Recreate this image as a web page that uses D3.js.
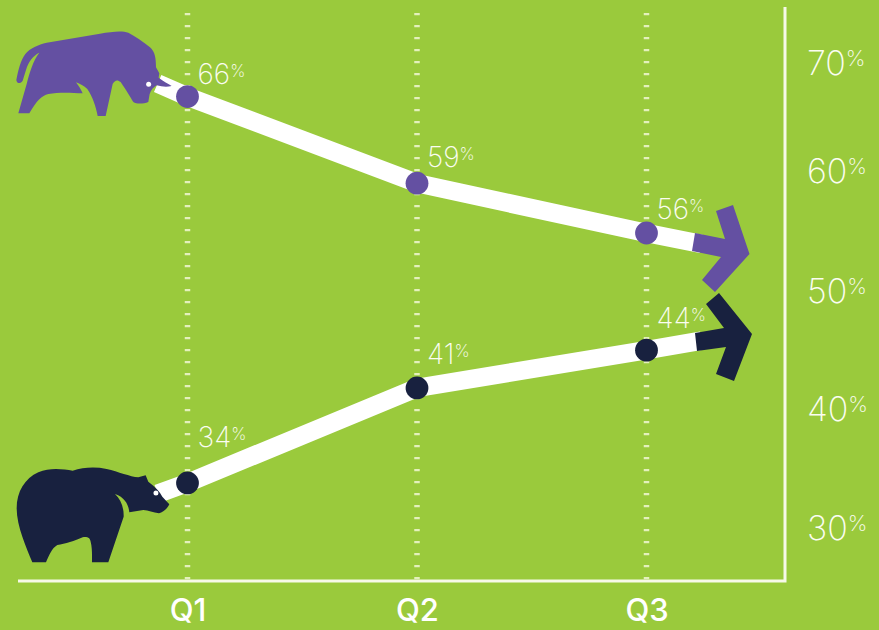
<!DOCTYPE html>
<html>
<head>
<meta charset="UTF-8">
<title>Bull and bear</title>
<script src="https://d3js.org/d3.v7.min.js"></script>
<style>
html, body { margin: 0; padding: 0; background: #9aca3c; }
svg { display: block; }
text { font-family: Inter, Lato, sans-serif; }
.pct { font-weight: 200; fill: #fbfdf2; }
.q { font-weight: 500; font-size: 31px; fill: #fff; }
</style>
</head>
<body>
<svg id="chart" width="879" height="630"></svg>
<script>
var quarters = ["Q1", "Q2", "Q3"];
var yTicks = [30, 40, 50, 60, 70];
// printed labels
var bullLabels = [66, 59, 56];
var bearLabels = [34, 41, 44];
// where the dots actually sit against the axis
var bullPlotted = [66.8, 58.9, 54.75];
var bearPlotted = [33.7, 41.7, 44.9];
// line ends, [quarter position, axis value]
var bullStart = [0.87, 68.0], bullEnd = [3.24, 53.83];
var bearStart = [0.87, 32.8], bearEnd = [3.24, 45.7];

var bullColor = "#6450a2", bearColor = "#18213f", lineColor = "#fff";

var svg = d3.select("#chart");
var x = d3.scaleLinear().domain([1, 3]).range([187.5, 646.5]);
// the source axis is not evenly spaced
var y = d3.scaleLinear().domain(yTicks).range([527, 408, 290, 170, 62]);

// dotted quarter lines
svg.append("g").selectAll("line").data([1, 2, 3]).join("line")
    .attr("x1", d => x(d)).attr("x2", d => x(d))
    .attr("y1", 13).attr("y2", 580)
    .attr("stroke", "#e4f0bc").attr("stroke-width", 5.5)
    .attr("stroke-dasharray", "2.2 9.8");

// axis lines
var xAxis = d3.axisBottom(x).tickValues([1, 2, 3]).tickFormat(d => quarters[d - 1]).tickSize(0).tickPadding(18);
var gx = svg.append("g").attr("transform", "translate(0,581)").call(xAxis);
gx.select(".domain").remove();
gx.selectAll("text").attr("class", "q").attr("fill", null).attr("dy", "0.71em");
svg.append("path").attr("d", "M18,581H785V7").attr("fill", "none").attr("stroke", "#f6f9e8").attr("stroke-width", 3);

var yAxis = d3.axisRight(y).tickValues(yTicks).tickSize(0).tickPadding(22).tickFormat(d => d);
var gy = svg.append("g").attr("transform", "translate(785,0)").call(yAxis);
gy.select(".domain").remove();
gy.selectAll("text").attr("class", "pct").attr("fill", null).attr("font-size", 34).attr("dy", "0.36em");
gy.selectAll("text").append("tspan").attr("font-size", 22).attr("dy", "-0.42em").text("%");

var line = d3.line().x(d => x(d[0])).y(d => y(d[1]));

function series(color, plotted, labels, start, end, labelDy) {
    var pts = [start].concat(plotted.map((v, i) => [i + 1, v]), [end]);
    svg.append("path").attr("d", line(pts)).attr("fill", "none")
        .attr("stroke", lineColor).attr("stroke-width", 18.5);
    svg.append("g").selectAll("circle").data(plotted).join("circle")
        .attr("cx", (d, i) => x(i + 1)).attr("cy", d => y(d))
        .attr("r", 11.4).attr("fill", color);
    var t = svg.append("g").selectAll("text").data(labels).join("text")
        .attr("class", "pct").attr("font-size", 28)
        .attr("x", (d, i) => x(i + 1) + 10)
        .attr("y", (d, i) => y(plotted[i]) + labelDy[i])
        .text(d => d);
    t.append("tspan").attr("font-size", 17).attr("dy", "-0.4em").text("%");
}
series(bullColor, bullPlotted, bullLabels, bullStart, bullEnd, [-13, -16, -14]);
series(bearColor, bearPlotted, bearLabels, bearStart, bearEnd, [-36, -24, -22]);

// arrow heads and shafts
svg.append("path").attr("fill", bullColor)
    .attr("d", "M695,233L725,239L716,211L733,205L749.5,254L715,292L702,280L721,257L692,251Z");
svg.append("path").attr("fill", bearColor)
    .attr("d", "M695,333L724,328L706,304L719,293L752,334L734,381L716,374L726,347L697,351Z");

// bull icon, drawn in 3x units
var bull = svg.append("g").attr("transform", "translate(0,10) scale(0.3333)");
bull.append("path").attr("fill", bullColor)
    .attr("d", "M49,210C55,180 62,150 76,132C90,114 115,104 140,98L300,71C335,65 365,61 385,68C405,78 430,95 450,112C465,125 468,145 468,172L478,190L476,203C490,215 505,220 515,228C500,232 485,230 470,226C460,232 453,240 449,252L445,276C430,282 410,283 400,276C392,262 378,240 362,216C352,208 345,210 338,222L317,318H293C288,290 278,260 262,237C252,228 240,221 228,217C236,228 244,240 248,250C215,248 175,246 145,252C125,257 110,272 88,310H55L80,222C88,190 100,150 118,128C98,138 86,155 78,180L68,212C62,222 50,222 49,210Z");
bull.append("circle").attr("cx", 446).attr("cy", 223).attr("r", 7.5).attr("fill", "#fff");

// bear icon, drawn in 3x units
var bear = svg.append("g").attr("transform", "translate(0,420) scale(0.3333)");
bear.append("path").attr("fill", bearColor)
    .attr("d", "M50,265C50,215 75,175 115,157C150,142 190,148 218,152C250,142 285,140 320,147C355,155 390,170 415,172L437,166L445,185C465,200 480,215 487,230L508,253C503,265 490,276 477,280C460,278 445,270 430,270L388,277C386,255 375,232 345,222C362,238 372,262 371,290L325,427H276C276,405 277,385 272,365C270,352 260,350 248,352C225,362 195,372 172,375C155,385 148,405 138,427H97C80,385 50,320 50,265Z");
bear.append("circle").attr("cx", 468).attr("cy", 219).attr("r", 7.5).attr("fill", "#fff");
</script>
</body>
</html>
